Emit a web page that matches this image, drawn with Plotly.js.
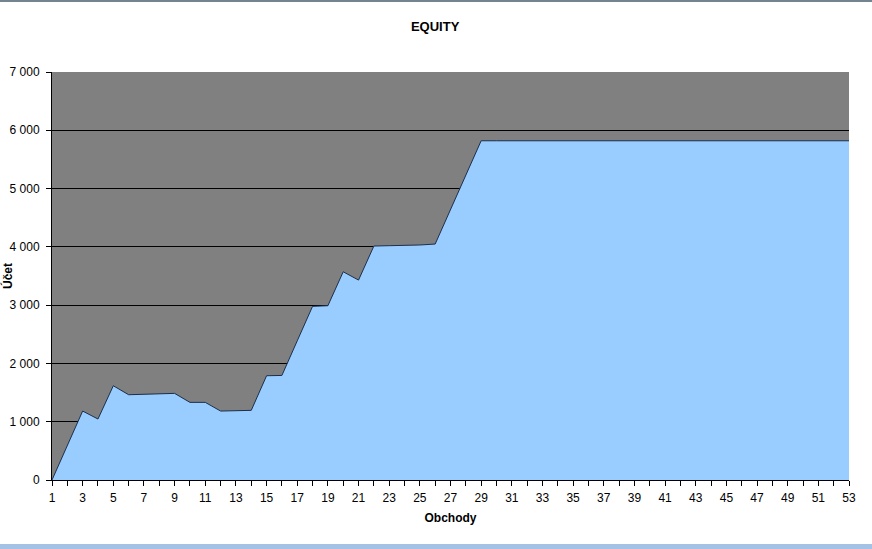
<!DOCTYPE html>
<html>
<head>
<meta charset="utf-8">
<script src="https://cdn.plot.ly/plotly-3.0.1.min.js"></script>
<style>
html,body{margin:0;padding:0;background:#fff;}
#wrap{position:relative;width:872px;height:549px;overflow:hidden;}
#chart{position:absolute;left:0;top:0;width:872px;height:549px;}
#topbar{position:absolute;left:0;top:0;width:872px;height:2px;background:#73838f;}
#botbar{position:absolute;left:0;top:544px;width:872px;height:5px;background:#a4c2e6;}
</style>
</head>
<body>
<div id="wrap">
<div id="chart"></div>
<div id="topbar"></div>
<div id="botbar"></div>
</div>
<script>
const trades = [];
for (let i = 1; i <= 53; i++) trades.push(i);
const equity = [
  0, 590, 1183, 1046, 1617, 1463, 1470, 1480, 1486, 1332,
  1332, 1183, 1187, 1195, 1789, 1794, 2387, 2979, 2990, 3573,
  3430, 4014, 4020, 4025, 4032, 4048, 4639, 5230, 5820, 5820,
  5820, 5820, 5820, 5820, 5820, 5820, 5820, 5820, 5820, 5820,
  5820, 5820, 5820, 5820, 5820, 5820, 5820, 5820, 5820, 5820,
  5820, 5820, 5820
];
const xTickVals = [];
for (let i = 1; i <= 53; i += 2) xTickVals.push(i);
const yTickVals = [0, 1000, 2000, 3000, 4000, 5000, 6000, 7000];

const trace = {
  x: trades, y: equity, type: 'scatter', mode: 'lines',
  fill: 'tozeroy', fillcolor: '#99ccff',
  line: {color: '#1c2e4a', width: 1},
  hoverinfo: 'x+y'
};
const fam = 'Arial, "Liberation Sans", sans-serif';
const font = {family: fam, size: 12, color: '#000'};
const layout = {
  width: 872, height: 549,
  margin: {l: 52, r: 23, t: 72, b: 69},
  paper_bgcolor: '#ffffff',
  plot_bgcolor: '#808080',
  separators: ', ',
  showlegend: false,
  font: font,
  title: {text: '<b>EQUITY</b>', x: 0.499, xref: 'container', xanchor: 'center',
          y: 0.951, yref: 'container', yanchor: 'middle',
          font: {family: fam, size: 13, color: '#000'}},
  xaxis: {
    range: [1, 53], tickvals: xTickVals, ticktext: xTickVals.map(String),
    showgrid: false, zeroline: false,
    showline: true, linecolor: '#000', linewidth: 1,
    ticks: 'outside', ticklen: 5, tickcolor: '#000', tickwidth: 1,
    ticklabelstandoff: 2,
    minor: {dtick: 1, tick0: 0, ticks: 'outside', ticklen: 5, tickcolor: '#000', showgrid: false},
    tickfont: font,
    title: {text: '<b>Obchody</b>', font: {family: fam, size: 12, color: '#000'}, standoff: 9}
  },
  yaxis: {
    range: [0, 7000], tickvals: yTickVals, tickformat: ',d',
    showgrid: true, gridcolor: '#000', gridwidth: 1, zeroline: false,
    showline: true, linecolor: '#000', linewidth: 1,
    ticks: 'outside', ticklen: 5, tickcolor: '#000', tickwidth: 1,
    ticklabelstandoff: 4,
    tickfont: font,
    title: {text: '<b>Účet</b>', font: {family: fam, size: 12, color: '#000'}, standoff: 4}
  }
};
Plotly.newPlot('chart', [trace], layout, {displayModeBar: false, staticPlot: true});
</script>
</body>
</html>
